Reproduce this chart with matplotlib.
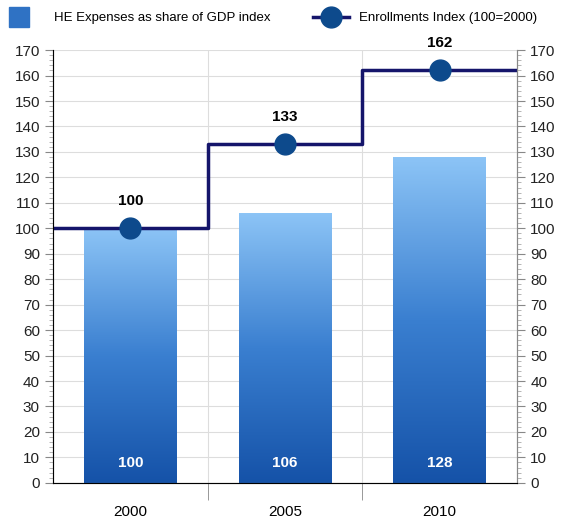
import numpy as np
import matplotlib.pyplot as plt
from matplotlib.colors import LinearSegmentedColormap
from matplotlib.lines import Line2D
from matplotlib.ticker import MultipleLocator

plt.rcParams["font.family"] = ["Liberation Sans", "DejaVu Sans"]

# Datos
years = ["2000", "2005", "2010"]
gasto_pib = [100, 106, 128]
matriculas = [100, 133, 162]

azul = LinearSegmentedColormap.from_list("azul", ["#1552a8", "#3a7fd0", "#8cc4f6"])
navy = "#15156b"

fig = plt.figure(figsize=(5.65, 5.22), dpi=100)
ax = fig.add_axes([0.094, 0.075, 0.821, 0.829])
x = np.arange(len(years))
ancho = 0.6

# Barras con degradado vertical
grad = np.linspace(0, 1, 256).reshape(-1, 1)
for xi, v in zip(x, gasto_pib):
    ax.imshow(grad, cmap=azul, origin="lower", aspect="auto",
              extent=(xi - ancho / 2, xi + ancho / 2, 0, v), zorder=2)
    ax.text(xi, 5, str(v), ha="center", va="bottom", color="white",
            fontsize=11, fontweight="bold", zorder=5)

# Línea escalonada de matrículas
xs = np.concatenate([[-0.5], x + 0.5])
ys = matriculas + [matriculas[-1]]
ax.step(xs, ys, where="post", color=navy, lw=2.5, zorder=3)
ax.plot(x, matriculas, "o", ms=15, color="#0d4a8c", zorder=4)
for xi, v in zip(x, matriculas):
    ax.text(xi, v + 8, str(v), ha="center", va="bottom", fontsize=11,
            fontweight="bold", zorder=5)

ax.set_xlim(-0.5, 2.5)
ax.set_ylim(0, 170)
ax.set_xticks(x)
ax.set_xticklabels(years, fontsize=11)
ax.set_xticks([0.5, 1.5], minor=True)
ax.tick_params(axis="x", which="major", length=0, pad=16)
ax.tick_params(axis="x", which="minor", length=12, color="#888888")
ax.yaxis.set_major_locator(MultipleLocator(10))
ax.yaxis.set_minor_locator(MultipleLocator(2))
ax.tick_params(axis="y", which="major", labelsize=11, length=6,
               color="#888888", labelcolor="#222222")
ax.tick_params(axis="y", which="minor", length=3, color="#aaaaaa")
ax.grid(axis="y", color="#dddddd", lw=0.8, zorder=0)
for b in [0.5, 1.5]:
    ax.axvline(b, color="#dddddd", lw=0.8, zorder=0)
ax.spines["top"].set_visible(False)
for s in ["left", "right", "bottom"]:
    ax.spines[s].set_color("#888888")

ax2 = ax.twinx()
ax2.set_ylim(0, 170)
ax2.yaxis.set_major_locator(MultipleLocator(10))
ax2.yaxis.set_minor_locator(MultipleLocator(2))
ax2.tick_params(axis="y", which="major", labelsize=11, length=6,
                color="#888888", labelcolor="#222222")
ax2.tick_params(axis="y", which="minor", length=3, color="#aaaaaa")
ax2.spines["top"].set_visible(False)
ax2.spines["right"].set_color("#888888")

# Leyenda (dos entradas colocadas por separado)
h1 = Line2D([], [], ls="none", marker="s", ms=15, color="#2f72c4")
h2 = Line2D([], [], color=navy, lw=2.5, marker="o", ms=15,
            markerfacecolor="#0d4a8c", markeredgecolor="#0d4a8c")
fig.legend([h1], ["HE Expenses as share of GDP index"],
           loc="center left", bbox_to_anchor=(-0.005, 0.9655),
           borderaxespad=0, frameon=False, fontsize=9.5,
           handlelength=2.5, handletextpad=1.4)
fig.legend([h2], ["Enrollments Index (100=2000)"],
           loc="center left", bbox_to_anchor=(0.545, 0.9655),
           borderaxespad=0, frameon=False, fontsize=9.5,
           handlelength=2.7, handletextpad=0.8)

plt.savefig("out.png", dpi=100)
